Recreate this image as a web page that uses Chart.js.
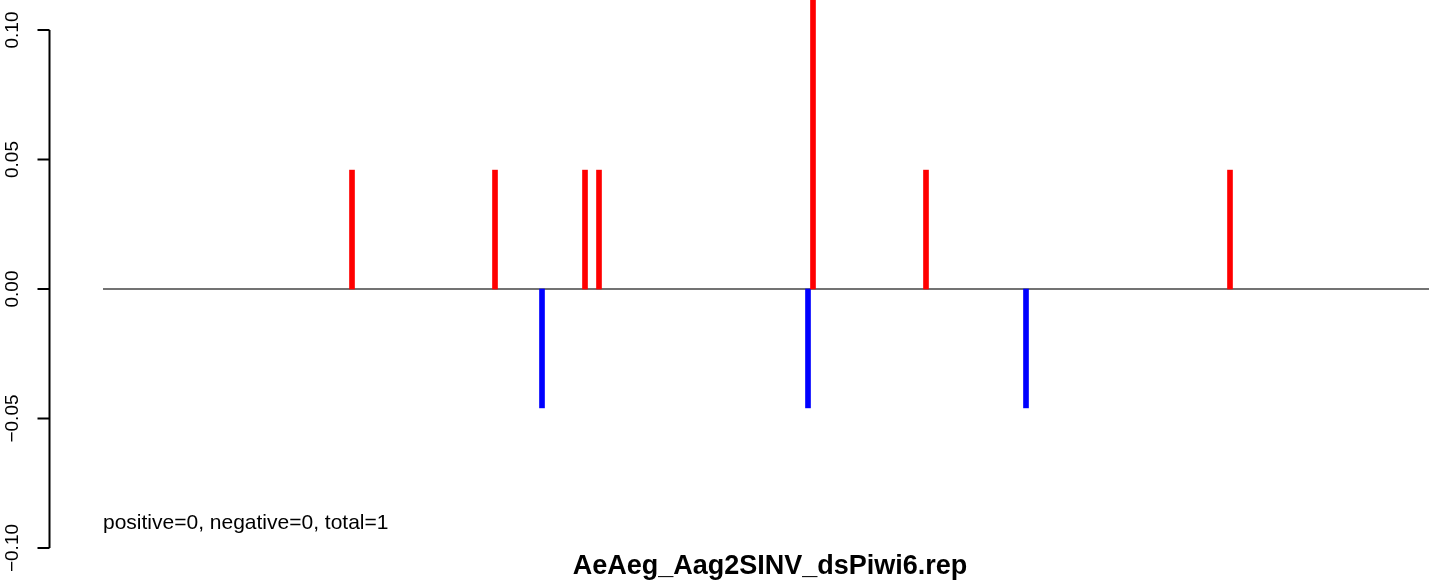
<!DOCTYPE html>
<html>
<head>
<meta charset="utf-8">
<title>AeAeg_Aag2SINV_dsPiwi6.rep</title>
<script src="https://cdn.jsdelivr.net/npm/chart.js@4/dist/chart.umd.min.js"></script>
<style>
html,body{margin:0;padding:0;background:#fff;}
#wrap{position:relative;width:1429px;height:581px;}
</style>
</head>
<body>
<div id="wrap"><canvas id="c" width="1429" height="581"></canvas></div>
<script>
// positions along the track (plot units) and signal values
const posPositions = [304, 447, 537, 551, 765, 878, 1182];
const posValues    = [0.0459, 0.0459, 0.0459, 0.0459, 0.14, 0.0459, 0.0459];
const negPositions = [494, 760, 978];
const negValues    = [-0.0459, -0.0459, -0.0459];
const trackRange   = [55, 1381];
const yTicks       = [-0.10, -0.05, 0.00, 0.05, 0.10];
const yTickLabels  = ['\u22120.10', '\u22120.05', '0.00', '0.05', '0.10'];
const statsText    = 'positive=0, negative=0, total=1';
const mainTitle    = 'AeAeg_Aag2SINV_dsPiwi6.rep';

function pts(xs, ys){ return xs.map(function(x,i){ return {x:x, y:ys[i]}; }); }

const FONT = '"Liberation Sans", Arial, Helvetica, sans-serif';

const rAxis = {
  id:'rAxis',
  afterDraw:function(chart){
    const ctx = chart.ctx, ys = chart.scales.y;
    const ax = 49.5;
    ctx.save();
    ctx.strokeStyle = '#000'; ctx.lineWidth = 2;
    ctx.beginPath();
    ctx.moveTo(ax, ys.getPixelForValue(yTicks[0]));
    ctx.lineTo(ax, ys.getPixelForValue(yTicks[yTicks.length-1]));
    yTicks.forEach(function(v){
      const py = ys.getPixelForValue(v);
      ctx.moveTo(ax, py); ctx.lineTo(ax-12, py);
    });
    ctx.stroke();
    ctx.fillStyle = '#000';
    ctx.font = '19px ' + FONT;
    ctx.textAlign = 'center'; ctx.textBaseline = 'middle';
    yTicks.forEach(function(v,i){
      const py = ys.getPixelForValue(v);
      ctx.save(); ctx.translate(13, py); ctx.rotate(-Math.PI/2);
      ctx.fillText(yTickLabels[i], 0, 0);
      ctx.restore();
    });
    ctx.textAlign = 'left'; ctx.textBaseline = 'alphabetic';
    ctx.font = '21px ' + FONT;
    ctx.fillText(statsText, 103, 529);
    ctx.textAlign = 'center';
    ctx.font = 'bold 27px ' + FONT;
    ctx.fillText(mainTitle, 770, 574);
    ctx.restore();
  }
};

new Chart(document.getElementById('c'), {
  type:'bar',
  data:{
    datasets:[
      {type:'line', data:pts(trackRange,[0,0]), borderColor:'#444', borderWidth:1.3, pointRadius:0, order:3},
      {data:pts(posPositions,posValues), backgroundColor:'#ff0000', barThickness:5, order:1},
      {data:pts(negPositions,negValues), backgroundColor:'#0000ff', barThickness:5, order:1}
    ]
  },
  options:{
    responsive:false, animation:false,
    layout:{padding:{left:48, right:0, top:0, bottom:0}},
    datasets:{bar:{grouped:false}},
    plugins:{legend:{display:false}, tooltip:{enabled:false}, title:{display:false}},
    scales:{
      x:{type:'linear', min:0, max:1381, offset:false, display:false},
      y:{min:-0.11274, max:0.11158, display:false}
    }
  },
  plugins:[rAxis]
});
</script>
</body>
</html>
